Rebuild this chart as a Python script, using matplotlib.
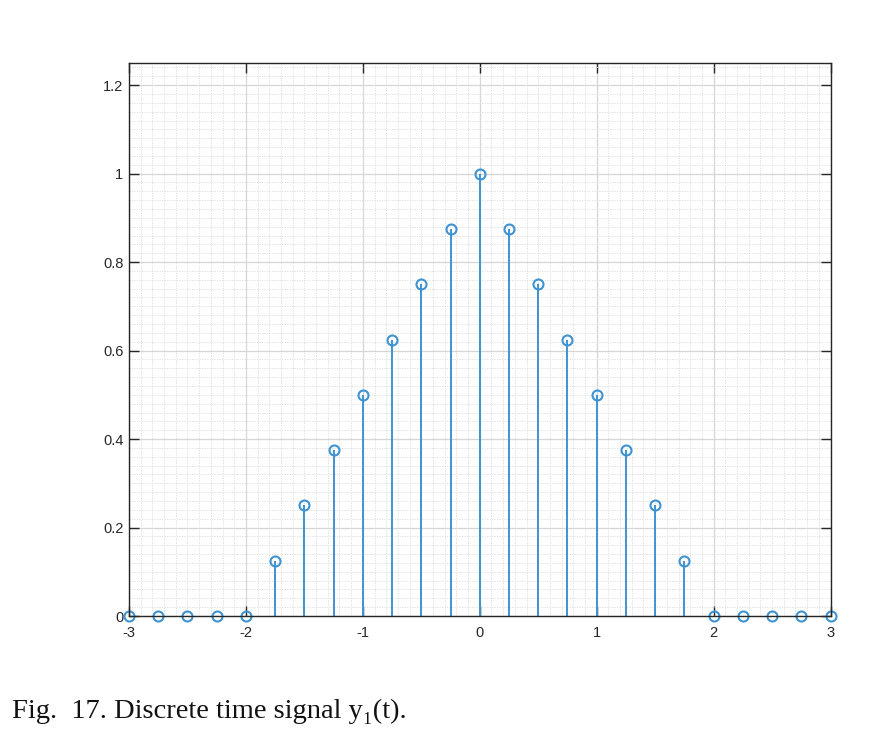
import numpy as np
import matplotlib.pyplot as plt
from matplotlib.ticker import MultipleLocator

# sample times and signal values
t = [-3.0, -2.75, -2.5, -2.25, -2.0, -1.75, -1.5, -1.25, -1.0, -0.75, -0.5, -0.25,
     0.0, 0.25, 0.5, 0.75, 1.0, 1.25, 1.5, 1.75, 2.0, 2.25, 2.5, 2.75, 3.0]
y1 = [0, 0, 0, 0, 0, 0.125, 0.25, 0.375, 0.5, 0.625, 0.75, 0.875,
      1.0, 0.875, 0.75, 0.625, 0.5, 0.375, 0.25, 0.125, 0, 0, 0, 0, 0]
xticks = [-3, -2, -1, 0, 1, 2, 3]
yticks = [0, 0.2, 0.4, 0.6, 0.8, 1, 1.2]
caption = 'Fig.  17. Discrete time signal y\u2081(t).'

blue = '#3f93d3'
axis_col = '#262626'

fig = plt.figure(figsize=(8.94, 7.36), dpi=100)
ax = fig.add_axes([0.1443, 0.163, 0.7847, 0.7514])

markerline, stemlines, baseline = ax.stem(t, y1, linefmt='-', markerfmt='o', basefmt=' ')
stemlines.set_color(blue)
stemlines.set_linewidth(1.4)
markerline.set_markerfacecolor('none')
markerline.set_markeredgecolor(blue)
markerline.set_markersize(7.2)
markerline.set_markeredgewidth(1.5)
markerline.set_clip_on(False)
baseline.set_visible(False)

ax.set_xlim(-3, 3)
ax.set_ylim(0, 1.25)
ax.set_xticks(xticks)
ax.set_xticklabels([str(v) for v in xticks])
ax.set_yticks(yticks)
ax.set_yticklabels(['0', '0.2', '0.4', '0.6', '0.8', '1', '1.2'])
ax.xaxis.set_minor_locator(MultipleLocator(0.1))
ax.yaxis.set_minor_locator(MultipleLocator(0.02))

ax.grid(True, which='major', color='#d6d6d6', linewidth=0.9, linestyle='-')
ax.grid(True, which='minor', color='#dcdcdc', linewidth=0.6, linestyle=(0, (1.5, 1.5)))
ax.set_axisbelow(True)

ax.tick_params(which='major', direction='in', length=7, width=1, color=axis_col,
               top=True, right=True, labelsize=10.5, labelcolor=axis_col)
ax.tick_params(axis='x', which='major', pad=7)
ax.tick_params(axis='y', which='major', pad=4)
ax.tick_params(which='minor', length=0, top=True, right=True)
for lab in ax.get_xticklabels() + ax.get_yticklabels():
    lab.set_family('Liberation Sans')
for sp in ax.spines.values():
    sp.set_color(axis_col)
    sp.set_linewidth(1.0)

fig.text(12 / 894, 1 - 718 / 736, caption, fontsize=20.5,
         family=['Liberation Serif', 'DejaVu Serif'], color='#111111',
         ha='left', va='baseline')

fig.savefig('out.png', dpi=100)
